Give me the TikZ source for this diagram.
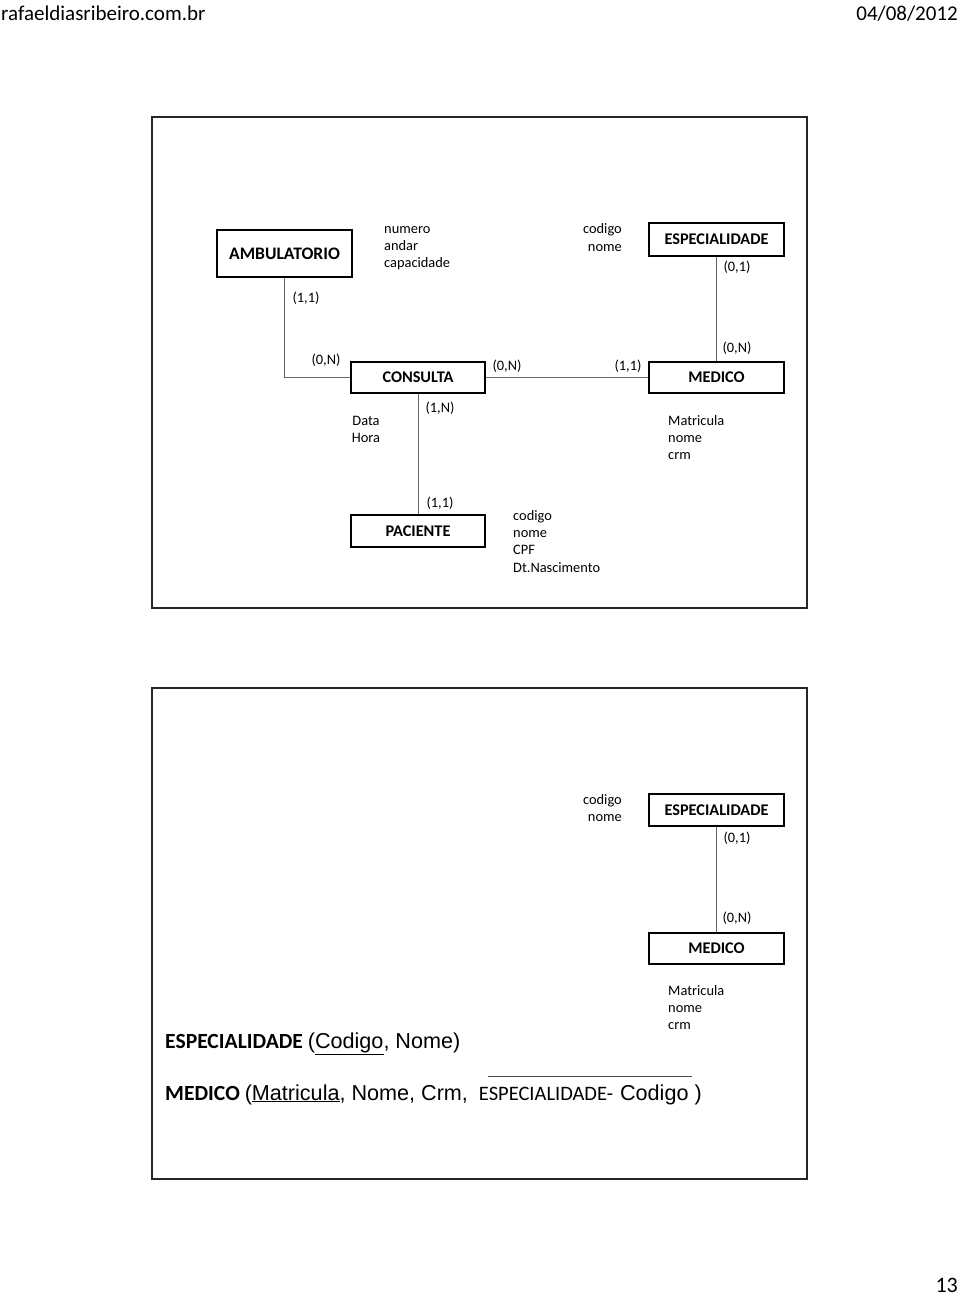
\documentclass[tikz,border=0pt]{standalone}
\usepackage{fontspec}
\setmainfont{Carlito}
\newfontfamily\arialfont{Liberation Sans}
\begin{document}
\begin{tikzpicture}[x=1pt,y=-1pt,
  entity/.style={draw=black, line width=1.6pt, minimum width=135pt, minimum height=32pt, inner sep=0pt, font=\fontsize{16.3}{19}\selectfont\bfseries},
  card/.style={inner sep=0pt, font=\fontsize{14.4}{17.3}\selectfont},
  attr/.style={card, align=left, anchor=north west},
  attrr/.style={card, align=right, anchor=north east},
  conn/.style={draw=black!60, line width=0.9pt},
  slideframe/.style={draw=black!85, line width=2.4pt},
  hdr/.style={inner sep=0pt, font=\fontsize{21}{25}\selectfont},
  rel/.style={inner sep=0pt, anchor=base west}
]
\useasboundingbox (0,0) rectangle (960,1296);
\fill[white] (0,0) rectangle (960,1296);

% header / footer
\node[hdr, anchor=base west] (site) at (1,20) {rafaeldiasribeiro.com.br};
\node[hdr, anchor=base east] (date) at (958,20) {04/08/2012};
\node[hdr, anchor=base east, font=\fontsize{22}{26}\selectfont] (pnum) at (958,1292) {13};

% slide frames
\draw[slideframe] (152,117) rectangle (807,608);
\draw[slideframe] (152,688) rectangle (807,1179);

% ---------- slide 1 ----------
\node[entity, minimum height=47pt, font=\fontsize{17.6}{21}\selectfont\bfseries] (amb) at (284.5,253.5) {AMBULATORIO};
\node[entity, minimum height=33pt] (esp) at (716.5,239.5) {ESPECIALIDADE};
\node[entity, minimum width=134pt, minimum height=31pt] (cons) at (418,377.5) {CONSULTA};
\node[entity, minimum height=31pt] (med) at (716.5,377.5) {MEDICO};
\node[entity, minimum width=134pt, minimum height=32pt] (pac) at (418,531) {PACIENTE};

\draw[conn] (amb.south) |- (cons.west);
\draw[conn] (cons.east) -- (med.west);
\draw[conn] (esp.south) -- (med.north);
\draw[conn] (cons.south) -- (pac.north);

\node[card] (c1) at (306,298) {(1,1)};
\node[card] (c2) at (326,360) {(0,N)};
\node[card] (c3) at (507,366) {(0,N)};
\node[card] (c4) at (628,366) {(1,1)};
\node[card] (c5) at (737,267) {(0,1)};
\node[card] (c6) at (737,348) {(0,N)};
\node[card] (c7) at (440,408) {(1,N)};
\node[card] (c8) at (440,503) {(1,1)};

\node[attr] (ambattr) at (384,221) {\strut numero\\andar\\capacidade};
\node[attrr] (espattr) at (622,221.5) {\strut codigo\\nome};
\node[card, align=center, anchor=north] (consattr) at (366,413) {\strut Data\\Hora};
\node[attr] (medattr) at (668,413) {\strut Matricula\\nome\\crm};
\node[attr] (pacattr) at (513,508) {\strut codigo\\nome\\CPF\\Dt.Nascimento};

% ---------- slide 2 ----------
\node[entity] (esp2) at (716.5,810) {ESPECIALIDADE};
\node[entity, minimum height=31pt] (med2) at (716.5,948.5) {MEDICO};
\draw[conn] (esp2.south) -- (med2.north);
\node[card] (d1) at (737,838) {(0,1)};
\node[card] (d2) at (737,918) {(0,N)};
\node[attrr] (esp2attr) at (622,792) {\strut codigo\\nome};
\node[attr] (med2attr) at (668,983) {\strut Matricula\\nome\\crm};

\node[rel] (rel1) at (165,1048) {\fontsize{21.6}{26}\selectfont\bfseries ESPECIALIDADE \mdseries\arialfont(\underline{Codigo}, Nome)};
\node[rel] (rel2) at (165,1100) {\fontsize{21.6}{26}\selectfont\bfseries MEDICO \mdseries\arialfont(\underline{Matricula}, Nome, Crm, \kern5pt{\fontsize{20.5}{24}\selectfont\normalfont ESPECIALIDADE-} \kern1pt Codigo )};
\coordinate (olA) at (488,1076);
\coordinate (olB) at (692,1076);
\draw[black!70, line width=0.8pt] (olA) -- (olB);
\end{tikzpicture}
\end{document}
